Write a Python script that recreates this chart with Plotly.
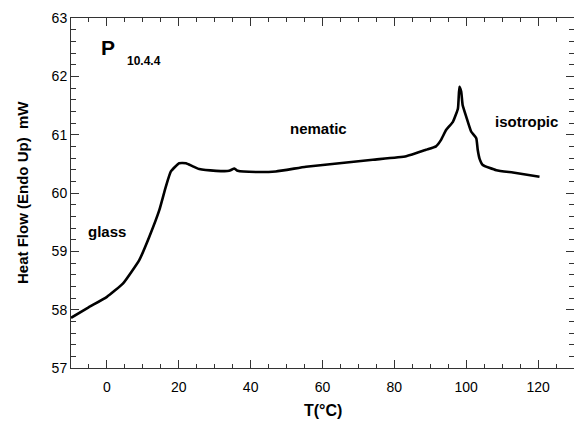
import plotly.graph_objects as go

temp_c = [-10, -5.1, 0, 4.5, 9, 11.8, 14.6, 16.4, 17.8, 20.1, 22, 23.8, 25.7, 30.4,
          34, 35.5, 36.4, 41.5, 47, 55.4, 64.7, 74, 83.3, 88.8, 91.6, 93, 94.4,
          96.3, 97.7, 98.1, 98.6, 99, 100, 101.4, 102.8, 103.2, 103.7, 104.6,
          108.4, 113, 120.4]
heat_flow = [57.86, 58.04, 58.22, 58.45, 58.85, 59.25, 59.71, 60.11, 60.37, 60.51,
             60.51, 60.46, 60.41, 60.38, 60.38, 60.42, 60.38, 60.36, 60.37, 60.45,
             60.51, 60.57, 60.63, 60.74, 60.80, 60.91, 61.08, 61.22, 61.45, 61.82,
             61.74, 61.51, 61.31, 61.05, 60.94, 60.74, 60.59, 60.48, 60.39, 60.35,
             60.28]

x_ticks = [0, 20, 40, 60, 80, 100, 120]
y_ticks = [57, 58, 59, 60, 61, 62, 63]
x_minor = [5 * i for i in range(-2, 27)]
y_minor = [round(57 + 0.2 * i, 1) for i in range(31)]

phase_labels = ["glass", "nematic", "isotropic"]
phase_x = [0.1, 58.9, 116.9]
phase_y = [59.34, 61.1, 61.23]

FONT = "Liberation Sans, Arial, sans-serif"
X_RANGE = [-10, 130]
Y_RANGE = [57, 63]

fig = go.Figure()
fig.add_trace(go.Scatter(x=temp_c, y=heat_flow, mode="lines",
                         line=dict(color="black", width=2.6, shape="spline", smoothing=0.4),
                         showlegend=False))
# invisible copy on the minor-tick axes so they are drawn
fig.add_trace(go.Scatter(x=temp_c, y=heat_flow, mode="lines", xaxis="x2", yaxis="y2",
                         line=dict(color="rgba(0,0,0,0)", width=0),
                         showlegend=False, hoverinfo="skip"))

for t, xx, yy in zip(phase_labels, phase_x, phase_y):
    fig.add_annotation(x=xx, y=yy, text=f"<b>{t}</b>", showarrow=False,
                       font=dict(family=FONT, size=15, color="black"))

fig.add_annotation(x=0.4, y=62.5, text="<b>P</b>", showarrow=False,
                   font=dict(family=FONT, size=21, color="black"))
fig.add_annotation(x=10.2, y=62.26, text="<b>10.4.4</b>", showarrow=False,
                   font=dict(family=FONT, size=12, color="black"))

fig.add_annotation(x=60, y=0, yref="paper", yshift=-42, yanchor="middle", text="<b>T(°C)</b>",
                   showarrow=False, font=dict(family=FONT, size=16, color="black"))
fig.add_annotation(x=0, xref="paper", xshift=-49, xanchor="center", y=60, textangle=-90,
                   text="<b>Heat Flow (Endo Up)  mW</b>",
                   showarrow=False, font=dict(family=FONT, size=15, color="black"))

fig.update_layout(
    width=574, height=426, margin=dict(l=71, r=0, t=18, b=58),
    plot_bgcolor="white", paper_bgcolor="white",
    xaxis=dict(range=X_RANGE, tickvals=x_ticks, ticks="inside", ticklen=8, tickcolor="#333",
               tickwidth=1.3, showline=True, linecolor="#333", mirror="ticks",
               showgrid=False, zeroline=False, ticklabelstandoff=6,
               tickfont=dict(family=FONT, size=14, color="black")),
    yaxis=dict(range=Y_RANGE, tickvals=y_ticks, ticks="inside", ticklen=8, tickcolor="#333",
               tickwidth=1.3, showline=True, linecolor="#333", mirror="ticks",
               showgrid=False, zeroline=False,
               tickfont=dict(family=FONT, size=14, color="black")),
    xaxis2=dict(range=X_RANGE, overlaying="x", anchor="y2", side="bottom",
                tickvals=x_minor, ticks="inside", ticklen=4, tickcolor="#333",
                showticklabels=False, showline=False, mirror="ticks",
                showgrid=False, zeroline=False),
    yaxis2=dict(range=Y_RANGE, overlaying="y", anchor="x2", side="left",
                tickvals=y_minor, ticks="inside", ticklen=5, tickcolor="#333",
                showticklabels=False, showline=False, mirror="ticks",
                showgrid=False, zeroline=False),
)

fig.write_html("out.html", config={"displayModeBar": False},
               post_script="document.body.style.margin='0';")
